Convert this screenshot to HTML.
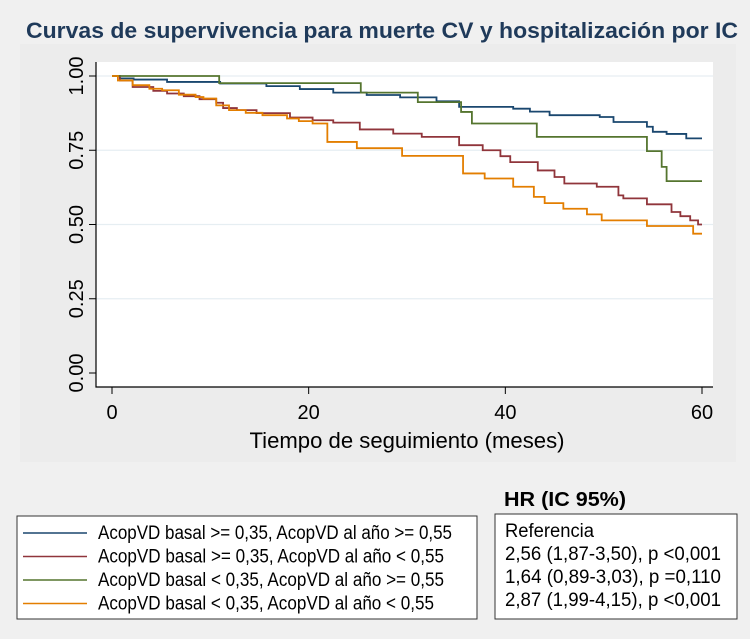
<!DOCTYPE html>
<html><head><meta charset="utf-8"><style>
html,body{margin:0;padding:0;background:#f0f0f0;}
svg{display:block;font-family:"Liberation Sans",sans-serif;}
</style></head><body>
<svg id="c" width="750" height="639">
<rect x="0" y="0" width="750" height="639" fill="#f0f0f0"/>
<rect x="20" y="44" width="716" height="418" fill="#ececec"/>
<text x="382" y="38" text-anchor="middle" font-size="22" font-weight="bold" fill="#1f3a5a" textLength="712" lengthAdjust="spacingAndGlyphs">Curvas de supervivencia para muerte CV y hospitalización por IC</text>
<rect x="96" y="62" width="617" height="325" fill="#fff"/>
<g id="grid"></g><g id="series"></g><g id="axes"></g>
<text x="407" y="448" text-anchor="middle" font-size="22" fill="#000" textLength="315" lengthAdjust="spacingAndGlyphs">Tiempo de seguimiento (meses)</text>
<text x="504" y="506" font-size="20" font-weight="bold" fill="#000" textLength="122" lengthAdjust="spacingAndGlyphs">HR (IC 95%)</text>
<rect x="17" y="516" width="460" height="103" fill="#fff" stroke="#333"/>
<g id="legend"></g>
<rect x="495" y="514" width="242" height="105" fill="#fff" stroke="#333"/>
<g font-size="19" fill="#000">
<text x="505" y="537" textLength="89" lengthAdjust="spacingAndGlyphs">Referencia</text>
<text x="505" y="560" textLength="216" lengthAdjust="spacingAndGlyphs">2,56 (1,87-3,50),  p &lt;0,001</text>
<text x="505" y="583" textLength="216" lengthAdjust="spacingAndGlyphs">1,64 (0,89-3,03),  p =0,110</text>
<text x="505" y="606" textLength="216" lengthAdjust="spacingAndGlyphs">2,87 (1,99-4,15),  p &lt;0,001</text>
</g>
</svg>
<script>
const xTicks=[0,20,40,60];
const yTicks=[0,0.25,0.5,0.75,1];
const yTickLabels=["0.00","0.25","0.50","0.75","1.00"];
const seriesNames=["AcopVD basal >= 0,35, AcopVD al año >= 0,55","AcopVD basal >= 0,35, AcopVD al año < 0,55","AcopVD basal < 0,35, AcopVD al año >= 0,55","AcopVD basal < 0,35, AcopVD al año < 0,55"];
const seriesColors=["#1a476f","#90353b","#55752f","#e37e00"];
const blueT=[0,0.8,2.2,5.6,11,15.7,19.1,22.5,25.9,29.3,33,35.3,40.8,42.5,44.5,49.6,51,54.4,55,56.4,58.4,60];
const blueV=[1,0.992,0.988,0.98,0.975,0.966,0.956,0.944,0.936,0.928,0.915,0.896,0.89,0.88,0.868,0.862,0.845,0.829,0.812,0.805,0.79,0.79];
const redT=[0,0.8,2.1,4.2,5.6,7.3,8.9,10.6,11.3,12.7,14.7,18.1,20.4,22.5,25.2,28.6,31.5,35.3,37.7,39.5,40.5,43.3,45,46,49.3,51.5,52,54.4,56.9,57.8,58.8,59.6,60];
const redV=[1,0.985,0.963,0.95,0.941,0.932,0.922,0.91,0.892,0.885,0.875,0.86,0.851,0.843,0.82,0.806,0.795,0.767,0.75,0.73,0.71,0.682,0.66,0.638,0.627,0.598,0.588,0.568,0.542,0.528,0.514,0.5,0.5];
const greenT=[0,10.9,25.3,31.1,35.5,36.6,43.2,54.4,55.9,56.4,60];
const greenV=[1,0.976,0.944,0.912,0.879,0.84,0.795,0.747,0.694,0.646,0.646];
const orangeT=[0,0.6,2.1,3.8,5.1,6.8,8.5,9.3,10.6,11.9,13.6,15.3,17.8,19,20.4,21.9,24.9,29.5,35.7,37.9,40.8,42.9,44,45.9,48.3,49.8,54.4,59.1,60];
const orangeV=[1,0.985,0.969,0.957,0.952,0.937,0.929,0.924,0.901,0.885,0.876,0.868,0.857,0.848,0.84,0.778,0.757,0.731,0.672,0.655,0.627,0.593,0.572,0.553,0.534,0.514,0.495,0.469,0.469];
const X0=112,X1=702,Y0=373,Y1=76;
function xs(t){return X0+(t-0)/(60-0)*(X1-X0);}
function ys(v){return Y0-(v-0)/(1-0)*(Y0-Y1);}
const NS="http://www.w3.org/2000/svg";
function mk(tag,attrs,parent){const e=document.createElementNS(NS,tag);for(const k in attrs)e.setAttribute(k,attrs[k]);parent.appendChild(e);return e;}
const grid=document.getElementById('grid'),axes=document.getElementById('axes'),ser=document.getElementById('series'),leg=document.getElementById('legend');
yTicks.forEach((v,i)=>{
  if(v>0){const g=mk('line',{x1:96,x2:713,y1:ys(v),y2:ys(v),stroke:'#e6eef2','stroke-width':1.2},grid);
  
  }
  const t=mk('line',{x1:89,x2:96,y1:ys(v),y2:ys(v),stroke:'#000','stroke-width':1},axes);
  
  
  const l=mk('text',{x:0,y:0,'font-size':20,'text-anchor':'middle',transform:`translate(83,${ys(v)}) rotate(-90)`},axes);
  l.textContent=yTickLabels[i];
  
  
});
xTicks.forEach(v=>{
  const t=mk('line',{x1:xs(v),x2:xs(v),y1:387,y2:394,stroke:'#000','stroke-width':1},axes);
  
  
  const l=mk('text',{x:xs(v),y:419,'font-size':20,'text-anchor':'middle'},axes);
  l.textContent=v;
  
  
});
const ax=mk('path',{d:'M96 62 V387 H713',fill:'none',stroke:'#000','stroke-width':1.2},axes);


const all=[[blueT,blueV],[redT,redV],[greenT,greenV],[orangeT,orangeV]];
[0,1,2,3].forEach(i=>{
  const [T,V]=all[i];let d=`M${xs(T[0])} ${ys(V[0])}`;
  for(let k=1;k<T.length;k++){d+=` H${xs(T[k])} V${ys(V[k])}`;}
  const p=mk('path',{d:d,fill:'none',stroke:seriesColors[i],'stroke-width':1.8},ser);
  
  
});
seriesNames.forEach((n,i)=>{
  const y=533+i*23.5;
  const l=mk('line',{x1:23,x2:87,y1:y,y2:y,stroke:seriesColors[i],'stroke-width':1.5},leg);
  
  
  const t=mk('text',{x:98,y:y+6,'font-size':19,textLength:[354,346,346,336][i],lengthAdjust:'spacingAndGlyphs'},leg);
  t.textContent=n;
  
  
});
</script>
</body></html>
